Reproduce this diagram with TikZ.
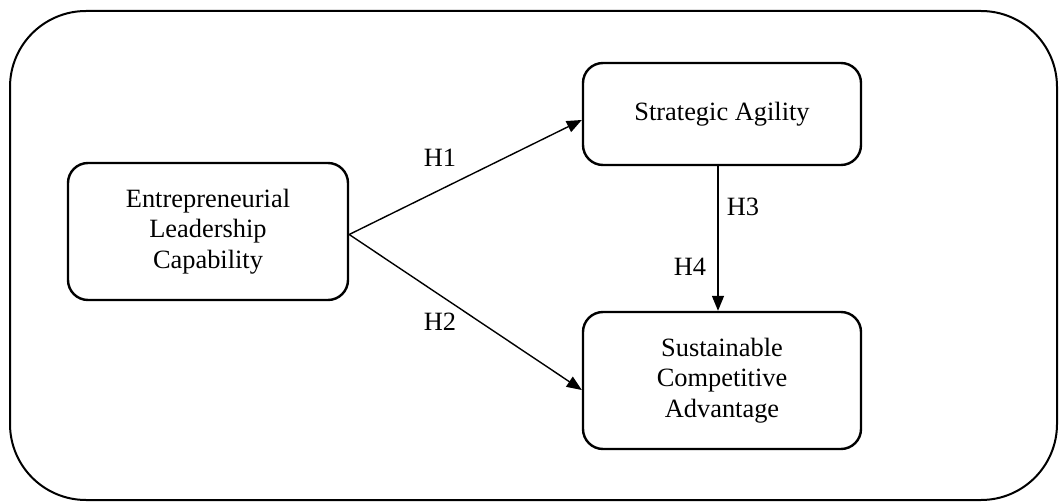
\documentclass[tikz,border=0pt]{standalone}
\usepackage{fontspec}
\setmainfont{Liberation Serif}
\usetikzlibrary{arrows.meta}
\begin{document}
\begin{tikzpicture}[x=1pt,y=-1pt,
  box/.style={draw,line width=2.4pt,rounded corners=20pt,inner sep=0pt,align=center,
    font=\fontsize{26.4}{30.5}\selectfont},
  lbl/.style={font=\fontsize{26.4}{30.5}\selectfont,inner sep=0pt},
  conn/.style={line width=1.4pt,-{Triangle[length=15pt,width=12pt]}}]
\useasboundingbox (0,0) rectangle (1059,502);
\draw[line width=2pt,rounded corners=76pt] (10,11) rectangle (1057,500);
\node[box,minimum width=280pt,minimum height=137pt] (elc) at (208,231.5) {Entrepreneurial\\Leadership\\Capability};
\node[box,minimum width=278pt,minimum height=102pt] (sa) at (722,114) {Strategic Agility};
\node[box,minimum width=278pt,minimum height=137pt] (sac) at (722,380.5) {Sustainable\\Competitive\\Advantage};
\coordinate (s) at ([yshift=-3pt]elc.east);
\draw[conn] (s) -- ([yshift=-6pt]sa.west);
\draw[conn] (s) -- ([yshift=-9.5pt]sac.west);
\draw[conn] ([xshift=-4pt]sa.south) -- ([xshift=-4pt]sac.north);
\node[lbl] (h1) at (440,158) {H1};
\node[lbl] (h2) at (440,322) {H2};
\node[lbl] (h3) at (743,207) {H3};
\node[lbl] (h4) at (690,267) {H4};
\end{tikzpicture}
\end{document}
